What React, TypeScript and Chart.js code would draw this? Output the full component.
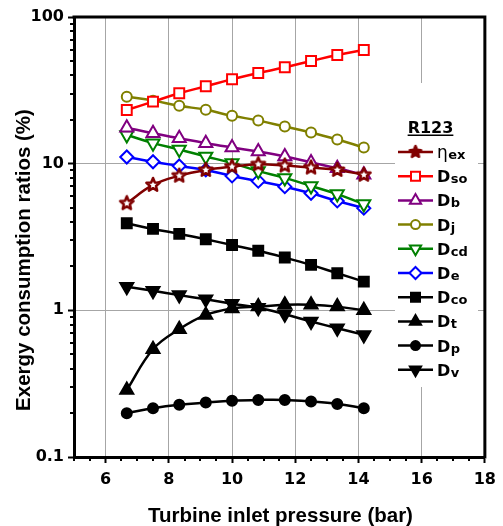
import React, { useEffect, useRef } from 'react';
import { Chart, registerables } from 'chart.js';
Chart.register(...registerables);

const pressure = [6.67, 7.5, 8.33, 9.17, 10, 10.83, 11.67, 12.5, 13.33, 14.17];
const etaEx = [5.37, 7.16, 8.28, 9.06, 9.54, 9.9, 9.7, 9.4, 9.06, 8.4];
const dSo = [23.2, 26.5, 30.2, 33.7, 37.6, 41.5, 45.4, 50.1, 55.1, 59.6];
const dB = [17.6, 16.1, 14.9, 13.8, 12.9, 12.1, 11.2, 10.2, 9.3, 8.4];
const dJ = [28.6, 26.9, 24.8, 23.3, 21.2, 19.7, 17.9, 16.3, 14.6, 12.9];
const dCd = [15.7, 13.8, 12.5, 11.2, 10.1, 8.9, 8.0, 7.05, 6.2, 5.3];
const dE = [11.1, 10.3, 9.65, 9.06, 8.25, 7.6, 6.97, 6.28, 5.57, 4.97];
const dCo = [3.92, 3.59, 3.32, 3.05, 2.79, 2.55, 2.29, 2.04, 1.79, 1.57];
const dT = [0.286, 0.543, 0.743, 0.93, 1.03, 1.06, 1.09, 1.09, 1.06, 1.0];
const dP = [0.199, 0.215, 0.227, 0.235, 0.242, 0.245, 0.245, 0.239, 0.23, 0.215];
const dV = [1.45, 1.36, 1.27, 1.19, 1.11, 1.04, 0.94, 0.84, 0.755, 0.68];

const xTicks = [6, 8, 10, 12, 14, 16, 18];
const yTicks = [0.1, 1, 10, 100];
const legendTitle = 'R123';
const xTitle = 'Turbine inlet pressure (bar)';
const yTitle = 'Exergy consumption ratios (%)';

type Kind = 'star' | 'rect' | 'tri' | 'circle' | 'triDown' | 'diamond';
interface Series { main: string; sub: string; data: number[]; color: string; kind: Kind; filled: boolean; }

const seriesList: Series[] = [
  { main: 'η', sub: 'ex', data: etaEx, color: '#800000', kind: 'star', filled: false },
  { main: 'D', sub: 'so', data: dSo, color: '#FF0000', kind: 'rect', filled: false },
  { main: 'D', sub: 'b', data: dB, color: '#800080', kind: 'tri', filled: false },
  { main: 'D', sub: 'j', data: dJ, color: '#808000', kind: 'circle', filled: false },
  { main: 'D', sub: 'cd', data: dCd, color: '#008000', kind: 'triDown', filled: false },
  { main: 'D', sub: 'e', data: dE, color: '#0000FF', kind: 'diamond', filled: false },
  { main: 'D', sub: 'co', data: dCo, color: '#000000', kind: 'rect', filled: true },
  { main: 'D', sub: 't', data: dT, color: '#000000', kind: 'tri', filled: true },
  { main: 'D', sub: 'p', data: dP, color: '#000000', kind: 'circle', filled: true },
  { main: 'D', sub: 'v', data: dV, color: '#000000', kind: 'triDown', filled: true },
];

const FONT = '"Liberation Sans", Arial, Helvetica, sans-serif';
const WIDE = '"DejaVu Sans", Verdana, sans-serif';

function makeStar(color: string, size: number, fill: string) {
  const c = document.createElement('canvas');
  c.width = size; c.height = size;
  const g = c.getContext('2d')!;
  const cx = size / 2, cy = size / 2, R = size / 2 - 2, r = R * 0.45;
  g.beginPath();
  for (let i = 0; i < 10; i++) {
    const a = -Math.PI / 2 + (i * Math.PI) / 5;
    const rad = i % 2 ? r : R;
    g.lineTo(cx + rad * Math.cos(a), cy + rad * Math.sin(a));
  }
  g.closePath();
  g.fillStyle = fill; g.fill();
  g.lineWidth = 2.5; g.strokeStyle = color; g.lineJoin = 'round'; g.stroke();
  return c;
}

function drawMarker(ctx: CanvasRenderingContext2D, s: Series, x: number, y: number, star: HTMLCanvasElement) {
  if (s.kind === 'star') { ctx.drawImage(star, x - star.width / 2, y - star.height / 2); return; }
  ctx.save();
  ctx.lineWidth = 2; ctx.strokeStyle = s.color; ctx.fillStyle = s.filled ? s.color : '#fff';
  ctx.beginPath();
  if (s.kind === 'rect') ctx.rect(x - 4.5, y - 4.5, 9, 9);
  else if (s.kind === 'circle') ctx.arc(x, y, 4.5, 0, Math.PI * 2);
  else if (s.kind === 'tri') { const r = 6.5; ctx.moveTo(x, y - r); ctx.lineTo(x + r * 0.866, y + r * 0.5); ctx.lineTo(x - r * 0.866, y + r * 0.5); ctx.closePath(); }
  else if (s.kind === 'triDown') { const r = 6.5; ctx.moveTo(x, y + r); ctx.lineTo(x + r * 0.866, y - r * 0.5); ctx.lineTo(x - r * 0.866, y - r * 0.5); ctx.closePath(); }
  else if (s.kind === 'diamond') { const r = 6; ctx.moveTo(x, y - r); ctx.lineTo(x + r, y); ctx.lineTo(x, y + r); ctx.lineTo(x - r, y); ctx.closePath(); }
  ctx.fill(); ctx.stroke();
  ctx.restore();
}

export default function App() {
  const ref = useRef<HTMLCanvasElement | null>(null);
  useEffect(() => {
    if (!ref.current) return;
    const star = makeStar('#800000', 18, '#fff');
    const legendStar = makeStar('#800000', 16, '#800000');

    const datasets = seriesList.map((s) => {
      const base: any = {
        label: s.main + s.sub,
        data: pressure.map((x, i) => ({ x, y: s.data[i] })),
        borderColor: s.color,
        borderWidth: 2.5,
        tension: 0.4,
        pointBorderColor: s.color,
        pointBackgroundColor: s.filled ? s.color : '#fff',
        pointBorderWidth: 2,
        pointRotation: 0,
      };
      if (s.kind === 'star') { base.pointStyle = star; base.pointRadius = 8; }
      if (s.kind === 'rect') { base.pointStyle = 'rect'; base.pointRadius = 7; }
      if (s.kind === 'circle') { base.pointStyle = 'circle'; base.pointRadius = 5; }
      if (s.kind === 'tri') { base.pointStyle = 'triangle'; base.pointRadius = 7.5; }
      if (s.kind === 'triDown') { base.pointStyle = 'triangle'; base.pointRadius = 7.5; base.pointRotation = 180; }
      if (s.kind === 'diamond') { base.pointStyle = 'rectRot'; base.pointRadius = 6.5; }
      return base;
    });

    const decoPlugin = {
      id: 'deco',
      afterDraw(chart: any) {
        const { ctx, chartArea: ca, scales } = chart;
        const xs = scales.x, ys = scales.y;
        ctx.save();
        ctx.strokeStyle = '#000';
        ctx.lineWidth = 2;
        // x minor ticks
        for (let v = 5; v <= 18.001; v += 0.5) {
          if (xTicks.includes(v)) continue;
          const px = Math.round(xs.getPixelForValue(v));
          ctx.beginPath(); ctx.moveTo(px, ca.bottom); ctx.lineTo(px, ca.bottom + 4); ctx.stroke();
        }
        // y minor ticks
        [0.1, 1, 10].forEach((d) => {
          for (let k = 2; k <= 9; k++) {
            const py = Math.round(ys.getPixelForValue(d * k));
            ctx.beginPath(); ctx.moveTo(ca.left - 4, py); ctx.lineTo(ca.left, py); ctx.stroke();
          }
        });
        // top & right borders
        ctx.lineWidth = 3;
        ctx.beginPath();
        ctx.moveTo(ca.left - 1.5, ca.top); ctx.lineTo(ca.right, ca.top); ctx.lineTo(ca.right, ca.bottom + 1.5);
        ctx.stroke();

        // axis titles
        ctx.fillStyle = '#000';
        ctx.font = `bold 20.5px ${FONT}`;
        ctx.textAlign = 'center';
        ctx.textBaseline = 'alphabetic';
        ctx.fillText(xTitle, (ca.left + ca.right) / 2 + 1, 521.5);
        ctx.save();
        ctx.translate(30, 260);
        ctx.rotate(-Math.PI / 2);
        ctx.fillText(yTitle, 0, 0);
        ctx.restore();

        // legend
        ctx.fillStyle = '#fff';
        ctx.fillRect(395, 83, 83, 304);
        ctx.fillStyle = '#000';
        ctx.font = `bold 16px ${WIDE}`;
        ctx.textAlign = 'center';
        ctx.textBaseline = 'alphabetic';
        ctx.fillText(legendTitle, 430.5, 132.5);
        const tw = ctx.measureText(legendTitle).width;
        ctx.fillRect(430.5 - tw / 2, 134.5, tw, 1.5);
        seriesList.forEach((s, i) => {
          const y = 152 + i * 24.2;
          ctx.strokeStyle = s.color;
          ctx.lineWidth = 2.5;
          ctx.beginPath(); ctx.moveTo(398, y); ctx.lineTo(433, y); ctx.stroke();
          drawMarker(ctx, s, 415.5, y, legendStar);
          ctx.fillStyle = '#000';
          ctx.textAlign = 'left';
          ctx.textBaseline = 'alphabetic';
          ctx.font = s.main === 'η' ? `17px ${WIDE}` : `bold 16px ${WIDE}`;
          ctx.fillText(s.main, 437, y + 6);
          const mw = ctx.measureText(s.main).width;
          ctx.font = `bold 13px ${WIDE}`;
          ctx.fillText(s.sub, 437 + mw + 0.5, y + 7);
        });
        ctx.restore();
      },
    };

    const chart = new Chart(ref.current, {
      type: 'line',
      data: { datasets },
      options: {
        animation: false,
        responsive: false,
        events: [],
        layout: { padding: { top: 17, right: 12, left: 0, bottom: 0 } },
        plugins: { legend: { display: false }, tooltip: { enabled: false } },
        scales: {
          x: {
            type: 'linear',
            min: 5,
            max: 18,
            afterBuildTicks: (s: any) => { s.ticks = xTicks.map((v) => ({ value: v })); },
            afterFit: (s: any) => { s.height = 69; },
            grid: { color: '#a6a6a6', lineWidth: 1, tickLength: 6, tickColor: '#000', tickWidth: 2 },
            border: { color: '#000', width: 3 },
            ticks: {
              color: '#000', padding: 7, maxRotation: 0, autoSkip: false,
              font: { family: WIDE, weight: 'bold', size: 16 },
              callback: (v: any) => String(v),
            },
          },
          y: {
            type: 'logarithmic',
            min: 0.1,
            max: 100,
            afterBuildTicks: (s: any) => { s.ticks = yTicks.map((v) => ({ value: v, major: true })); },
            afterFit: (s: any) => { s.width = 74; },
            grid: { color: '#a6a6a6', lineWidth: 1, tickLength: 6, tickColor: '#000', tickWidth: 2 },
            border: { color: '#000', width: 3 },
            ticks: {
              color: '#000', padding: 4, autoSkip: false,
              font: { family: WIDE, weight: 'bold', size: 16 },
              callback: (v: any) => String(v),
            },
          },
        },
      } as any,
      plugins: [decoPlugin],
    });
    return () => chart.destroy();
  }, []);
  return (
    <div style={{ position: 'absolute', left: 0, top: 0, width: 503, height: 526, background: '#fff' }}>
      <canvas ref={ref} width={503} height={526} style={{ display: 'block' }} />
    </div>
  );
}
